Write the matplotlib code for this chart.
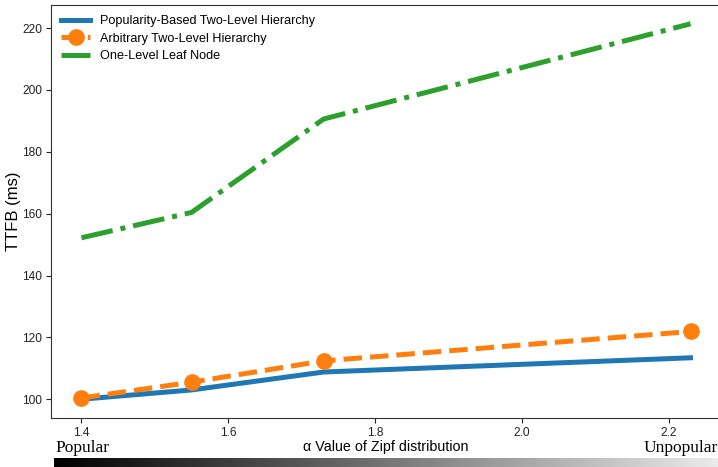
import matplotlib
matplotlib.use("Agg")
import matplotlib.pyplot as plt
import numpy as np

plt.rcParams['font.family'] = ['Liberation Sans', 'DejaVu Sans']

alpha = [1.4, 1.55, 1.73, 2.23]
popularity_based = [100.0, 103.0, 108.8, 113.4]
arbitrary = [100.4, 105.5, 112.4, 121.9]
one_level = [152.2, 160.4, 190.6, 221.4]

fig = plt.figure(figsize=(7.18, 4.67), dpi=100)
ax = fig.add_axes([51/718, 1-418/467, 670/718, 413/467])

ax.plot(alpha, popularity_based, color='#1f77b4', lw=3.6, label='Popularity-Based Two-Level Hierarchy')
ax.plot(alpha, arbitrary, color='#ff7f0e', lw=3.6, ls='--', marker='o', markersize=11,
        label='Arbitrary Two-Level Hierarchy')
ax.plot(alpha, one_level, color='#2ca02c', lw=3.6, ls='-.', label='One-Level Leaf Node')

ax.set_ylabel('TTFB (ms)', fontsize=12, va='center')
ax.yaxis.set_label_coords(-0.056, 0.5)
ax.set_xlabel('α Value of Zipf distribution', fontsize=10.3, va='center')
ax.xaxis.set_label_coords(0.5, -0.071)
ax.set_xticks([1.4, 1.6, 1.8, 2.0, 2.2])
ax.set_yticks([100, 120, 140, 160, 180, 200, 220])
ax.tick_params(labelsize=8.6, colors='#222222', length=3.5, pad=3)
for s in ax.spines.values():
    s.set_color('#333333')
ax.legend(loc='upper left', frameon=False, fontsize=9.1, handlelength=2.3,
          labelspacing=0.45, borderaxespad=0.4)

fig.text(55/718, 1-452/467, 'Popular', family='Liberation Serif', fontsize=12.5, ha='left', va='baseline')
fig.text(1.0, 1-452/467, 'Unpopular', family='Liberation Serif', fontsize=12.5, ha='right', va='baseline')

gax = fig.add_axes([54/718, 0, 1-54/718, 9.5/467])
grad = np.linspace(0, 0.92, 256).reshape(1, -1)
gax.imshow(grad, aspect='auto', cmap='gray', vmin=0, vmax=1)
gax.axis('off')

fig.savefig('out.png', dpi=100)
